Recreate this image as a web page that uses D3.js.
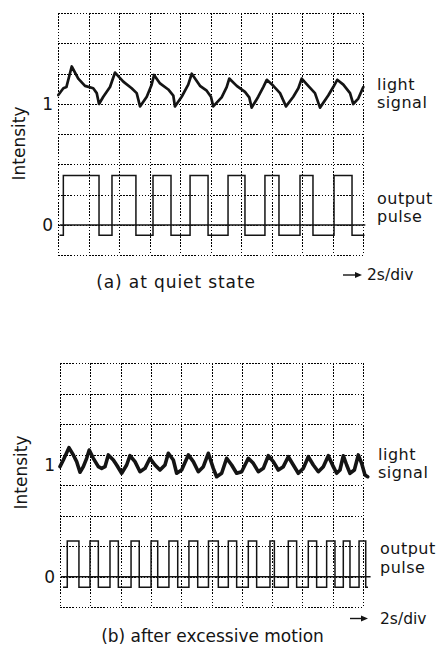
<!DOCTYPE html>
<html>
<head>
<meta charset="utf-8">
<script src="https://cdn.jsdelivr.net/npm/d3@7/dist/d3.min.js"></script>
<style>
    body { margin: 0; background: #fff; }
    svg { display: block; font-family: "DejaVu Sans", sans-serif; }
</style>
</head>
<body>
<svg id="vis" width="438" height="646"></svg>
<script>
/**
 * Data (time in s, intensity in a.u.)
 */
const TICK_VALUES = [0, 1];
const TICK_LABELS = ["0", "1"];

// (a) quiet state - light signal
const SIGNAL_A_T = [0.02, 0.35, 0.55, 0.90, 1.33, 1.77, 2.31, 2.54, 2.69, 2.97, 3.41, 3.74, 4.28, 4.83, 5.16, 5.38,
    5.82, 6.14, 6.30, 6.69, 7.23, 7.56, 7.67, 8.11, 8.54, 8.77, 9.31, 9.75, 10.03, 10.18, 10.73, 11.06, 11.23,
    11.72, 12.26, 12.54, 12.70, 13.13, 13.46, 13.69, 14.12, 14.56, 14.95, 15.43, 15.76, 15.98, 16.41, 16.85,
    17.18, 17.72, 18.05, 18.31, 18.71, 19.15, 19.36, 19.69, 20.02];
const SIGNAL_A_V = [1.074, 1.13, 1.14, 1.31, 1.21, 1.15, 1.13, 1.09, 1.0, 1.06, 1.14, 1.26, 1.185, 1.13, 1.09, 0.98,
    1.06, 1.16, 1.24, 1.17, 1.12, 1.07, 0.98, 1.06, 1.16, 1.25, 1.15, 1.11, 1.06, 0.98, 1.055, 1.14, 1.21,
    1.15, 1.10, 1.055, 0.97, 1.06, 1.14, 1.20, 1.15, 1.09, 0.98, 1.06, 1.13, 1.21, 1.15, 1.09,
    0.97, 1.07, 1.14, 1.20, 1.16, 1.09, 1.0, 1.045, 1.14];

// (a) quiet state - output pulse (step after each time)
const PULSE_A_T = [0.1, 0.35, 2.69, 3.54, 5.11, 6.23, 7.41, 8.66, 9.84, 11.15, 12.26, 13.57, 14.49, 15.87, 16.72,
    18.10, 19.28, 20.1];
const PULSE_A_V = [-0.085, 0.41, -0.085, 0.41, -0.085, 0.41, -0.085, 0.41, -0.085, 0.41, -0.085, 0.41, -0.085,
    0.41, -0.085, 0.41, -0.085, -0.085];

// (b) after excessive motion - light signal
const SIGNAL_B_T = [0, 0.22, 0.59, 0.88, 1.10, 1.32, 1.54, 1.76, 1.93, 2.20, 2.53, 2.75, 2.97, 3.19, 3.52, 3.74,
    4.07, 4.40, 4.62, 4.95, 5.28, 5.61, 5.94, 6.27, 6.60, 6.93, 7.15, 7.48, 7.70, 8.03, 8.47, 8.80, 9.13, 9.46,
    9.79, 10.12, 10.34, 10.67, 11.00, 11.33, 11.66, 11.99, 12.43, 12.76, 13.09, 13.42, 13.75, 14.08, 14.41,
    14.74, 15.07, 15.40, 15.73, 16.06, 16.39, 16.72, 17.05, 17.38, 17.71, 18.04, 18.26, 18.48, 18.70, 18.92,
    19.14, 19.43, 19.69, 19.91, 20.13, 20.31];
const SIGNAL_B_V = [0.985, 1.045, 1.155, 1.09, 1.03, 0.935, 0.985, 1.06, 1.134, 1.06, 0.985, 0.97, 0.985, 1.09,
    1.045, 1.0, 0.926, 1.0, 1.083, 1.03, 0.94, 0.97, 1.06, 1.0, 0.955, 1.0, 1.105, 1.045, 0.926, 0.955, 1.09,
    1.03, 0.94, 0.985, 1.105, 0.97, 0.895, 0.926, 1.06, 1.0, 0.926, 0.94, 1.06, 1.015, 0.94, 0.97, 1.083,
    1.03, 0.955, 0.985, 1.074, 1.0, 0.926, 0.97, 1.074, 1.0, 0.94, 0.985, 1.083, 0.985, 0.926, 0.955, 1.083,
    1.0, 0.926, 0.955, 1.09, 1.015, 0.91, 0.895];

// (b) after excessive motion - output pulse
const PULSE_B_T = [0.20, 0.48, 1.25, 1.98, 2.53, 3.30, 3.85, 4.69, 5.23, 6.01, 6.45, 7.19, 7.77, 8.51, 9.09, 9.80,
    10.45, 11.11, 11.66, 12.43, 12.98, 13.86, 14.15, 15.07, 15.62, 16.39, 16.94, 17.60, 18.15, 18.70, 19.14,
    19.74, 20.18, 20.33];
const PULSE_B_V = [-0.095, 0.32, -0.095, 0.32, -0.095, 0.32, -0.095, 0.32, -0.095, 0.32, -0.095, 0.32, -0.095,
    0.32, -0.095, 0.32, -0.095, 0.32, -0.095, 0.32, -0.095, 0.32, -0.095, 0.32, -0.095, 0.32, -0.095, 0.32,
    -0.095, 0.32, -0.095, 0.32, -0.095, -0.095];

/**
 * Layout of each panel (pixels)
 */
const PANEL_A = {
    left: 58, right: 363, top: 13, bottom: 255, zeroY: 225, oneY: 104, axisX: 57, tickPad: 4,
    zeroFrom: 0.12, zeroTo: 20.15,
    light: [377, 89.5, 108], output: [377, 203.5, 221.5],
    arrowX: [343, 362], arrowY: 275, divText: [367, 280],
    caption: "(a) at quiet state", captionPos: [176, 288], captionSpacing: 0.9,
    intensity: [25, 143.5]
};
const PANEL_B = {
    left: 60, right: 363, top: 363, bottom: 607, zeroY: 576.7, oneY: 465, axisX: 60, tickPad: 5,
    zeroFrom: 0.05, zeroTo: 20.5,
    light: [378, 459.5, 478], output: [380, 554, 572.5],
    arrowX: [350, 368], arrowY: 618.5, divText: [380, 623.5],
    caption: "(b) after excessive motion", captionPos: [212.5, 642], captionSpacing: 0,
    intensity: [27, 472.5]
};
const INK = "#141414";

window.onload = function () {
    setup();
};

function zip(ts, vs) {
    return ts.map((t, i) => ({t: t, v: vs[i]}));
}

function setup() {
    var svg = d3.select("#vis");
    drawPanel(svg, PANEL_A, zip(SIGNAL_A_T, SIGNAL_A_V), zip(PULSE_A_T, PULSE_A_V), 2.7);
    drawPanel(svg, PANEL_B, zip(SIGNAL_B_T, SIGNAL_B_V), zip(PULSE_B_T, PULSE_B_V), 3.6);
}

function drawPanel(svg, cfg, signal, pulse, signalWidth) {
    var g = svg.append("g");

    var x = d3.scaleLinear().domain([0, 20]).range([cfg.left, cfg.right]);
    var y = d3.scaleLinear().domain([0, 1]).range([cfg.zeroY, cfg.oneY]);

    // oscilloscope graticule: 10 x 8 divisions
    var gx = d3.scaleLinear().domain([0, 10]).range([cfg.left, cfg.right]);
    var gy = d3.scaleLinear().domain([0, 8]).range([cfg.top, cfg.bottom]);

    var grid = g.append("g")
        .attr("stroke", "#000")
        .attr("stroke-width", 1.5)
        .attr("stroke-dasharray", "1.5,1.6")
        .attr("shape-rendering", "crispEdges");

    grid.selectAll("line.v")
        .data(d3.range(11))
        .enter().append("line")
        .attr("class", "v")
        .attr("x1", d => Math.round(gx(d)) + 0.5).attr("x2", d => Math.round(gx(d)) + 0.5)
        .attr("y1", cfg.top).attr("y2", cfg.bottom);

    grid.selectAll("line.h")
        .data(d3.range(9))
        .enter().append("line")
        .attr("class", "h")
        .attr("x1", cfg.left).attr("x2", cfg.right)
        .attr("y1", d => Math.round(gy(d)) + 0.5).attr("y2", d => Math.round(gy(d)) + 0.5);

    // zero line
    g.append("line")
        .attr("x1", x(cfg.zeroFrom)).attr("x2", x(cfg.zeroTo))
        .attr("y1", y(0)).attr("y2", y(0))
        .attr("stroke", INK)
        .attr("stroke-width", 1.5);

    // output pulse
    var pulseLine = d3.line()
        .curve(d3.curveStepAfter)
        .x(d => x(d.t))
        .y(d => y(d.v));

    g.append("path")
        .datum(pulse)
        .attr("d", pulseLine)
        .attr("fill", "none")
        .attr("stroke", INK)
        .attr("stroke-width", 1.5);

    // light signal
    var signalLine = d3.line()
        .x(d => x(d.t))
        .y(d => y(d.v));

    g.append("path")
        .datum(signal)
        .attr("d", signalLine)
        .attr("fill", "none")
        .attr("stroke", INK)
        .attr("stroke-width", signalWidth)
        .attr("stroke-linejoin", "round")
        .attr("stroke-linecap", "round");

    // intensity ticks
    var axis = g.append("g")
        .attr("transform", `translate(${cfg.axisX},0)`)
        .call(d3.axisLeft(y)
            .tickValues(TICK_VALUES)
            .tickFormat((d, i) => TICK_LABELS[i])
            .tickSize(0)
            .tickPadding(cfg.tickPad));
    axis.select(".domain").remove();
    axis.selectAll("text")
        .attr("fill", INK)
        .style("font-family", "\"DejaVu Sans\", sans-serif")
        .style("font-size", "17px");

    // right hand labels
    var labels = g.append("g")
        .attr("fill", INK)
        .style("font-size", "16px")
        .style("letter-spacing", "0.5px");

    labels.append("text").attr("x", cfg.light[0]).attr("y", cfg.light[1]).text("light");
    labels.append("text").attr("x", cfg.light[0]).attr("y", cfg.light[2]).text("signal");
    labels.append("text").attr("x", cfg.output[0]).attr("y", cfg.output[1]).text("output");
    labels.append("text").attr("x", cfg.output[0]).attr("y", cfg.output[2]).text("pulse");

    // time base
    g.append("line")
        .attr("x1", cfg.arrowX[0]).attr("x2", cfg.arrowX[1] - 5)
        .attr("y1", cfg.arrowY).attr("y2", cfg.arrowY)
        .attr("stroke", INK)
        .attr("stroke-width", 1.4);
    g.append("path")
        .attr("d", `M${cfg.arrowX[1]},${cfg.arrowY} l-7,-3 l0,6 z`)
        .attr("fill", INK);
    g.append("text")
        .attr("x", cfg.divText[0]).attr("y", cfg.divText[1])
        .attr("fill", INK)
        .style("font-size", "15.5px")
        .text("2s/div");

    // caption
    g.append("text")
        .attr("x", cfg.captionPos[0]).attr("y", cfg.captionPos[1])
        .attr("text-anchor", "middle")
        .attr("fill", INK)
        .style("font-size", "17px")
        .style("letter-spacing", cfg.captionSpacing + "px")
        .text(cfg.caption);

    // y title
    g.append("text")
        .attr("transform", `translate(${cfg.intensity[0]},${cfg.intensity[1]}) rotate(-90)`)
        .attr("text-anchor", "middle")
        .attr("fill", INK)
        .style("font-size", "17px")
        .text("Intensity");
}
</script>
</body>
</html>
